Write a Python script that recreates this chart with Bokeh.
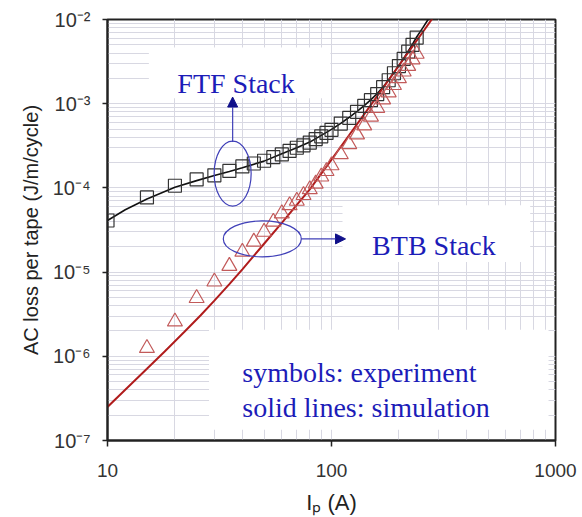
from bokeh.plotting import figure
from bokeh.models import FixedTicker, Label, BoxAnnotation, Arrow, NormalHead
from bokeh.embed import file_html
from bokeh.resources import INLINE

# ---------------- data ----------------
ftf_exp_I = [10, 15, 20, 25, 30, 35, 40, 45, 50, 55, 60, 65, 70, 75, 80, 85, 90, 95,
             100, 110, 120, 130, 140, 150, 160, 170, 180, 190, 200, 210, 220, 230, 240]
ftf_exp_Q = [4.1e-5, 7.7e-5, 1.06e-4, 1.26e-4, 1.41e-4, 1.59e-4, 1.80e-4, 1.95e-4, 2.10e-4,
             2.32e-4, 2.50e-4, 2.75e-4, 3.0e-4, 3.2e-4, 3.45e-4, 3.8e-4, 4.1e-4, 4.5e-4,
             4.9e-4, 5.8e-4, 6.8e-4, 8.0e-4, 9.4e-4, 1.1e-3, 1.3e-3, 1.57e-3, 1.9e-3,
             2.3e-3, 2.8e-3, 3.4e-3, 4.15e-3, 5.0e-3, 6.1e-3]

ftf_sim_I = [10, 12, 15, 20, 25, 30, 35, 40, 50, 60, 70, 80, 90, 100, 110, 120, 130, 140,
             150, 160, 170, 180, 190, 200, 210, 220, 230, 240, 255, 270, 280]
ftf_sim_Q = [4.1e-5, 5.5e-5, 7.4e-5, 1.02e-4, 1.22e-4, 1.40e-4, 1.57e-4, 1.74e-4, 2.08e-4,
             2.55e-4, 3.0e-4, 3.5e-4, 4.2e-4, 4.95e-4, 5.85e-4, 6.9e-4, 8.1e-4, 9.5e-4,
             1.12e-3, 1.32e-3, 1.58e-3, 1.93e-3, 2.35e-3, 2.85e-3, 3.45e-3, 4.2e-3,
             5.1e-3, 6.2e-3, 7.9e-3, 1.0e-2, 1.15e-2]

btb_exp_I = [15, 20, 25, 30, 35, 40, 45, 50, 55, 60, 65, 70, 75, 80, 85, 90, 95,
             100, 110, 120, 130, 140, 150, 160, 170, 180, 190, 200, 210, 220, 230, 240]
btb_exp_Q = [1.25e-6, 2.58e-6, 4.9e-6, 7.7e-6, 1.18e-5, 1.74e-5, 2.29e-5, 3.0e-5, 3.95e-5,
             4.97e-5, 6.2e-5, 7.0e-5, 8.2e-5, 9.6e-5, 1.12e-4, 1.36e-4, 1.58e-4,
             1.85e-4, 2.5e-4, 3.3e-4, 4.3e-4, 5.5e-4, 7.0e-4, 8.9e-4, 1.12e-3, 1.36e-3,
             1.66e-3, 2.0e-3, 2.4e-3, 2.8e-3, 3.35e-3, 3.9e-3]

btb_sim_I = [10, 12, 15, 18, 22, 26, 30, 35, 40, 50, 60, 70, 80, 100, 120, 150, 180, 200,
             230, 260, 285]
btb_sim_Q = [2.5e-7, 4.0e-7, 7.1e-7, 1.14e-6, 1.94e-6, 3.05e-6, 4.58e-6, 7.2e-6, 1.08e-5,
             2.17e-5, 3.85e-5, 6.3e-5, 9.6e-5, 2.17e-4, 4.25e-4, 9.7e-4, 1.91e-3, 2.84e-3,
             4.8e-3, 7.55e-3, 1.07e-2]

x_ticks = [10, 100, 1000]
x_tick_labels = ["10", "100", "1000"]
x_minor = [20, 30, 40, 50, 60, 70, 80, 90, 200, 300, 400, 500, 600, 700, 800, 900]
y_ticks = [1e-7, 1e-6, 1e-5, 1e-4, 1e-3, 1e-2]
y_tick_labels = ["10\u207b\u2077", "10\u207b\u2076", "10\u207b\u2075",
                 "10\u207b\u2074", "10\u207b\u00b3", "10\u207b\u00b2"]
y_minor = [k * 10.0 ** e for e in range(-7, -2) for k in range(2, 10)]

BLUE = "#1c1cb8"
ELL = "#4040b8"
AXC = "#222222"
GRID = "#d8d8e2"

p = figure(width=582, height=517, x_axis_type="log", y_axis_type="log",
           x_range=(10, 1000), y_range=(1e-7, 1e-2),
           output_backend="svg", toolbar_location=None,
           min_border_left=107, min_border_right=27, min_border_top=19,
           min_border_bottom=76)
p.background_fill_color = "white"
p.border_fill_color = "white"
p.outline_line_color = AXC
p.outline_line_width = 2

xt = FixedTicker(ticks=x_ticks, minor_ticks=x_minor)
yt = FixedTicker(ticks=y_ticks, minor_ticks=y_minor)
p.xaxis.ticker = xt
p.yaxis.ticker = yt
p.xgrid.ticker = xt
p.ygrid.ticker = yt
for g in (p.xgrid, p.ygrid):
    g.grid_line_color = GRID
    g.grid_line_width = 1
    g.minor_grid_line_color = GRID
    g.minor_grid_line_width = 1

for ax in (p.xaxis, p.yaxis):
    ax.axis_line_color = AXC
    ax.axis_line_width = 2
    ax.major_tick_line_color = AXC
    ax.major_tick_line_width = 1.5
    ax.major_tick_in = 0
    ax.minor_tick_in = 0
    ax.minor_tick_out = 0
    ax.major_label_text_font = "Liberation Sans"
    ax.major_label_text_color = "#333333"
    ax.axis_label_text_font = "Liberation Sans"
    ax.axis_label_text_font_style = "normal"
    ax.axis_label_text_color = "#222222"

p.xaxis.major_tick_out = 6
p.xaxis.major_label_overrides = {t: s for t, s in zip(x_ticks, x_tick_labels)}
p.xaxis.major_label_text_font_size = "19px"
p.xaxis.major_label_standoff = 17
p.xaxis.axis_label = "I\u209a (A)"
p.xaxis.axis_label_text_font_size = "22px"
p.xaxis.axis_label_standoff = 10

p.yaxis.major_tick_out = 5
p.yaxis.major_label_overrides = {t: s for t, s in zip(y_ticks, y_tick_labels)}
p.yaxis.major_label_text_font_size = "20px"
p.yaxis.major_label_standoff = 12
p.yaxis.axis_label = "AC loss per tape (J/m/cycle)"
p.yaxis.axis_label_text_font_size = "20px"
p.yaxis.axis_label_standoff = 8

# white boxes behind the annotation texts
for l, r, t, b in [(15.3, 98.9, 4.66e-3, 1.16e-3),
                   (112, 771, 6.24e-5, 1.32e-5),
                   (28.4, 931, 2.06e-6, 1.34e-7)]:
    p.add_layout(BoxAnnotation(left=l, right=r, top=t, bottom=b, fill_color="white",
                               fill_alpha=1.0, line_alpha=0, level="underlay"))

# data
p.line(ftf_sim_I, ftf_sim_Q, line_color="#111111", line_width=1.6)
p.line(btb_sim_I, btb_sim_Q, line_color="#b01c1c", line_width=2)
p.scatter(ftf_exp_I, ftf_exp_Q, marker="square", size=13, fill_alpha=0,
          line_color="#333333", line_width=1.2)
p.scatter(btb_exp_I, btb_exp_Q, marker="triangle", size=15, fill_alpha=0,
          line_color="#c25a5a", line_width=1.2)

# ellipses and arrows
p.ellipse(x=[36.2], y=[1.48e-4], width=37, height=65, width_units="screen",
          height_units="screen", fill_alpha=0, line_color=ELL, line_width=1.2)
p.ellipse(x=[49.1], y=[2.48e-5], width=78, height=36, width_units="screen",
          height_units="screen", fill_alpha=0, line_color=ELL, line_width=1.2)
p.add_layout(Arrow(end=NormalHead(size=10, fill_color="#10108a", line_color="#10108a"),
                   x_start=36.2, y_start=3.51e-4, x_end=36.2, y_end=1.2e-3,
                   line_color=ELL, line_width=1.2))
p.add_layout(Arrow(end=NormalHead(size=10, fill_color="#10108a", line_color="#10108a"),
                   x_start=73.3, y_start=2.48e-5, x_end=115.5, y_end=2.48e-5,
                   line_color=ELL, line_width=1.2))

# annotation texts
def note(x, y, s):
    p.add_layout(Label(x=x, y=y, text=s, text_font="Liberation Serif",
                       text_font_size="28px", text_color=BLUE,
                       text_baseline="alphabetic", text_align="left"))

note(20.5, 1.73e-3, "FTF Stack")
note(151.8, 2.09e-5, "BTB Stack")
note(40.0, 6.36e-7, "symbols: experiment")
note(40.0, 2.44e-7, "solid lines: simulation")

open("out.html", "w").write(file_html(p, INLINE))
